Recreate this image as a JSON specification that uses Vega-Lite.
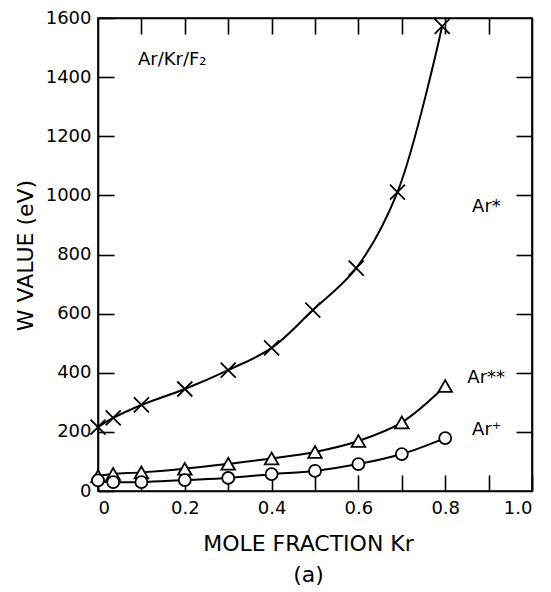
{
  "$schema": "https://vega.github.io/schema/vega-lite/v6.json",
  "width": 434,
  "height": 473,
  "autosize": "none",
  "padding": {"left": 98, "top": 18, "right": 19, "bottom": 101},
  "background": "white",
  "config": {
    "view": {"stroke": "black", "strokeWidth": 1.6},
    "font": "DejaVu Sans",
    "axis": {
      "grid": false,
      "domainColor": "black",
      "domainWidth": 1.6,
      "tickColor": "black",
      "tickWidth": 1.6,
      "tickSize": -16,
      "labelFont": "DejaVu Sans",
      "labelFontSize": 18,
      "labelColor": "black",
      "titleFont": "DejaVu Sans",
      "titleFontSize": 22,
      "titleFontWeight": "normal",
      "titleColor": "black"
    }
  },
  "datasets": {
    "series": [
      {"series": "Ar*", "kr": 0.0, "w": 216},
      {"series": "Ar*", "kr": 0.035, "w": 247},
      {"series": "Ar*", "kr": 0.1, "w": 291},
      {"series": "Ar*", "kr": 0.2, "w": 345},
      {"series": "Ar*", "kr": 0.3, "w": 409},
      {"series": "Ar*", "kr": 0.4, "w": 484},
      {"series": "Ar*", "kr": 0.495, "w": 612},
      {"series": "Ar*", "kr": 0.595, "w": 754},
      {"series": "Ar*", "kr": 0.69, "w": 1011},
      {"series": "Ar*", "kr": 0.793, "w": 1572},
      {"series": "Ar**", "kr": 0.0, "w": 50},
      {"series": "Ar**", "kr": 0.035, "w": 58},
      {"series": "Ar**", "kr": 0.1, "w": 63},
      {"series": "Ar**", "kr": 0.2, "w": 75},
      {"series": "Ar**", "kr": 0.3, "w": 92},
      {"series": "Ar**", "kr": 0.4, "w": 110},
      {"series": "Ar**", "kr": 0.5, "w": 132},
      {"series": "Ar**", "kr": 0.6, "w": 169},
      {"series": "Ar**", "kr": 0.7, "w": 232},
      {"series": "Ar**", "kr": 0.8, "w": 355},
      {"series": "Ar+", "kr": 0.0, "w": 36},
      {"series": "Ar+", "kr": 0.035, "w": 30},
      {"series": "Ar+", "kr": 0.1, "w": 30},
      {"series": "Ar+", "kr": 0.2, "w": 37},
      {"series": "Ar+", "kr": 0.3, "w": 44},
      {"series": "Ar+", "kr": 0.4, "w": 57},
      {"series": "Ar+", "kr": 0.5, "w": 68},
      {"series": "Ar+", "kr": 0.6, "w": 91},
      {"series": "Ar+", "kr": 0.7, "w": 125},
      {"series": "Ar+", "kr": 0.8, "w": 179}
    ],
    "notes": [
      {"label": "Ar/Kr/F₂", "kr": 0.092, "w": 1441},
      {"label": "Ar*", "kr": 0.862, "w": 944},
      {"label": "Ar**", "kr": 0.851, "w": 365},
      {"label": "Ar⁺", "kr": 0.862, "w": 189}
    ]
  },
  "layer": [
    {
      "data": {"name": "series"},
      "mark": {"type": "line", "interpolate": "catmull-rom", "color": "black", "strokeWidth": 2},
      "encoding": {
        "x": {
          "field": "kr",
          "type": "quantitative",
          "scale": {"domain": [0, 1], "nice": false, "zero": false},
          "axis": {
            "orient": "bottom",
            "values": [0, 0.1, 0.2, 0.3, 0.4, 0.5, 0.6, 0.7, 0.8, 0.9, 1.0],
            "labelExpr": "round(datum.value * 10) % 2 == 0 ? (datum.value == 0 ? '0' : format(datum.value, '.1f')) : ''",
            "labelPadding": 24,
            "title": ["MOLE FRACTION Kr", "(a)"],
            "titleX": 210,
            "titleY": 59,
            "titleAlign": "center",
            "titleBaseline": "alphabetic",
            "titleLineHeight": 31
          }
        },
        "y": {
          "field": "w",
          "type": "quantitative",
          "scale": {"domain": [0, 1600], "nice": false},
          "axis": {
            "orient": "left",
            "values": [0, 200, 400, 600, 800, 1000, 1200, 1400, 1600],
            "format": "d",
            "labelPadding": 23,
            "title": "W VALUE (eV)",
            "titleX": -73,
            "titleY": 237,
            "titleAngle": -90,
            "titleAlign": "center",
            "titleBaseline": "middle"
          }
        },
        "detail": {"field": "series"}
      }
    },
    {
      "data": {"name": "series"},
      "mark": {"type": "point", "filled": true, "fill": "white", "stroke": "black", "strokeWidth": 1.8, "opacity": 1},
      "encoding": {
        "x": {
          "field": "kr",
          "type": "quantitative",
          "axis": {
            "orient": "top",
            "values": [0.1, 0.2, 0.3, 0.4, 0.5, 0.6, 0.7, 0.8, 0.9],
            "labels": false,
            "title": null
          }
        },
        "y": {
          "field": "w",
          "type": "quantitative",
          "axis": {
            "orient": "right",
            "values": [200, 400, 600, 800, 1000, 1200, 1400],
            "labels": false,
            "title": null
          }
        },
        "shape": {
          "field": "series",
          "type": "nominal",
          "scale": {"domain": ["Ar*", "Ar**", "Ar+"], "range": ["M-1,-1L1,1M-1,1L1,-1", "triangle-up", "circle"]},
          "legend": null
        },
        "size": {
          "field": "series",
          "type": "nominal",
          "scale": {"domain": ["Ar*", "Ar**", "Ar+"], "range": [225, 144, 100]},
          "legend": null
        }
      }
    },
    {
      "data": {"name": "notes"},
      "mark": {"type": "text", "align": "left", "baseline": "alphabetic", "fontSize": 18, "font": "DejaVu Sans", "color": "black"},
      "encoding": {
        "x": {"field": "kr", "type": "quantitative", "axis": null},
        "y": {"field": "w", "type": "quantitative", "axis": null},
        "text": {"field": "label"}
      }
    }
  ],
  "resolve": {"axis": {"x": "independent", "y": "independent"}}
}
